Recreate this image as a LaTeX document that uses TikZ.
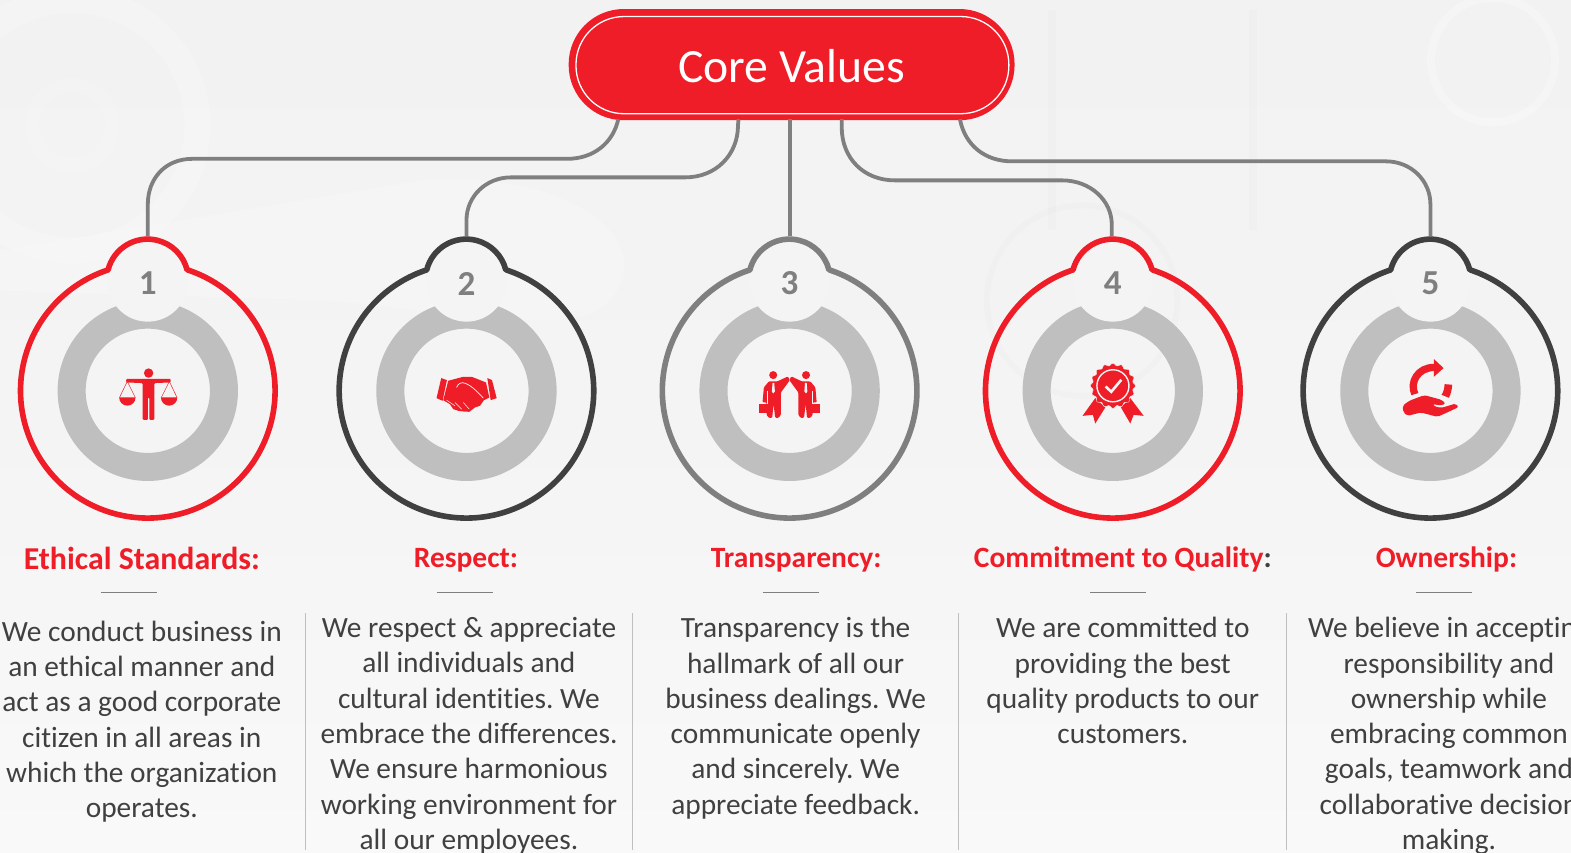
\documentclass[tikz,border=0pt]{standalone}
\usepackage{fontspec}
\setmainfont[Ligatures=NoCommon]{Carlito}
\definecolor{cvred}{HTML}{EE1D27}
\definecolor{cvdark}{HTML}{404040}
\definecolor{cvgray}{HTML}{7F7F7F}
\definecolor{cvring}{HTML}{BFBFBF}
\definecolor{cvbg}{HTML}{F4F4F4}
\definecolor{cvtop}{HTML}{F2F2F2}
\definecolor{cvbot}{HTML}{F9F9F9}
\definecolor{cvtxt}{HTML}{404040}
\newcommand{\bodyfont}{\fontsize{29.3}{35.2}\selectfont}
\tikzset{
  conn/.style={draw=cvgray,line width=3.8pt},
  bodytext/.style={anchor=north,align=center,text=cvtxt,inner sep=0pt,font=\bodyfont},
  headtext/.style={text=cvred,inner sep=0pt,font=\fontsize{29.4}{32}\selectfont\bfseries},
  rulemark/.style={draw=cvgray,line width=1pt},
  divider/.style={draw=cvring,line width=1pt},
}
\begin{document}
\frenchspacing
\begin{tikzpicture}[x=1pt,y=1pt]
\useasboundingbox (0,0) rectangle (1567.8,-850.3);
% background
\shade[top color=cvtop,bottom color=cvbot,middle color=cvbg] (0,0) rectangle (1567.8,-850.3);
\begin{scope}
\clip (0,0) rectangle (1567.8,-850.3);
\draw[white,opacity=.22,line width=26pt] (72,-125) circle[radius=125pt];
\draw[white,opacity=.15,line width=14pt] (72,-125) circle[radius=40pt];
\fill[white,opacity=.18] (0,-250) -- (420,-180) .. controls (560,-170) and (640,-230) .. (620,-280) .. controls (600,-340) and (520,-320) .. (330,-300) -- (0,-290) -- cycle;
\draw[white,opacity=.25,line width=8pt] (1490,-60) circle[radius=62pt];
\draw[black,opacity=.01,line width=8pt] (1050,-10) -- (1050,-230);
\draw[black,opacity=.01,line width=8pt] (1250,-10) -- (1250,-230);
\draw[black,opacity=.01,line width=6pt] (1080,-300) circle[radius=95pt];
\end{scope}
% named anchors on the title
\node[minimum width=445pt,minimum height=111pt,rounded corners=55pt,fill=cvred,inner sep=0pt] (core) at (790,-64.5) {};
\coordinate (s1) at (617,-119);
\coordinate (s2) at (737,-119);
\coordinate (s3) at (788,-119);
\coordinate (s4) at (840,-119);
\coordinate (s5) at (958,-119);
\coordinate (t1) at (147.5,-236);
\coordinate (t2) at (465.5,-236);
\coordinate (t3) at (788,-236);
\coordinate (t4) at (1109.5,-236);
\coordinate (t5) at (1427.5,-236);
\coordinate (b1) at (566,-158.5);
\coordinate (b2) at (684,-177);
\coordinate (b4) at (893,-180);
\coordinate (b5) at (1010,-161);
\coordinate (e1) at (192,-158.5);
\coordinate (e2) at (510,-177);
\coordinate (e4) at (1060,-180);
\coordinate (e5) at (1383,-161);
% connectors
\draw[conn] (s1) .. controls (612,-142) and (593,-158.5) .. (b1) -- (e1) .. controls (165,-158.5) and (147.5,-178) .. (147.5,-204) -- (t1);
\draw[conn] (s2) -- (736.5,-125) .. controls (736.5,-155) and (714,-177) .. (b2) -- (e2) .. controls (485,-177) and (465.5,-196) .. (465.5,-220) -- (t2);
\draw[conn] (s3) -- (t3);
\draw[conn] (s4) -- (840,-127) .. controls (840,-158) and (862,-180) .. (b4) -- (e4) .. controls (1088,-180) and (1109.5,-200) .. (1109.5,-224) -- (t4);
\draw[conn] (s5) .. controls (963,-145) and (983,-161) .. (b5) -- (e5) .. controls (1408,-161) and (1427.5,-180) .. (1427.5,-204) -- (t5);
% title
\node[minimum width=432pt,minimum height=97pt,rounded corners=48pt,draw=white,line width=1.3pt,inner sep=0pt] (coreinner) at (790.8,-65) {};
\node[text=white,inner sep=0pt,font=\fontsize{47.6}{50}\selectfont] (coretext) at (790,-65.5) {Core Values};
% badges
\foreach \i/\cx/\col in {1/147.5/cvred,2/465.5/cvdark,3/788/cvgray,4/1110.5/cvred,5/1427.5/cvdark}{
  \fill[even odd rule,cvring] (\cx,-390) circle[radius=90pt] (\cx,-390) circle[radius=62pt];
  \fill[cvbg] (\cx,-281) circle[radius=40pt];
  \draw[\col,line width=5.6pt,line join=round] (\cx,-390) ++(71.8:127pt) arc[start angle=71.8,end angle=-251.8,radius=127pt]
     arc[start angle=165.8,end angle=14.2,radius=40.7pt] -- cycle;
  \node[text=cvgray,inner sep=0pt,font=\fontsize{35}{36}\selectfont\bfseries] (num\i) at (\cx,-283) {\i};
}
% icon 1: scales (zoom coordinates of crop at 0,220)
\begin{scope}[shift={(0,-220)},x=0.3333pt,y=-0.3333pt,cvred]
  \fill (445,457) circle[radius=4.7pt];
  \fill[rounded corners=1pt] (378,474) -- (511,474) -- (511,485) -- (462,487) -- (462,597) -- (447,597) -- (447,530) -- (443,530) -- (443,597) -- (427,597) -- (427,487) -- (378,485) -- cycle;
  \draw[line width=.5pt] (358,530) -- (381,482) -- (405,530) (483,530) -- (507,482) -- (530,530);
  \fill (357,530) -- (406,530) arc[start angle=0,end angle=-180,radius=8.2pt] -- cycle;
  \fill (482,530) -- (531,530) arc[start angle=0,end angle=-180,radius=8.2pt] -- cycle;
\end{scope}
% icon 2: handshake, icon 3: people (crop at 400,340)
\begin{scope}[shift={(399,-340)},x=0.3333pt,y=-0.3333pt,cvred]
  \fill (124,112) -- (141,118) -- (128,180) -- (110,172) -- cycle;
  \fill (262,112) -- (276,118) -- (290,172) -- (272,178) -- cycle;
  \fill (145,120) -- (190,108) -- (215,108) -- (258,125) -- (268,170) -- (252,178) -- (240,195) -- (225,200) -- (208,213) -- (190,212) -- (175,210) -- (160,205) -- (150,190) -- (130,178) -- cycle;
  \draw[cvbg,line width=.7pt] (170,140) .. controls (180,115) and (205,122) .. (250,172);
  \draw[cvbg,line width=.5pt] (140,178) -- (165,195) (165,185) -- (185,205) (190,185) -- (208,205);
  \foreach \m in {0,1}{
    \begin{scope}[xshift={\m*778pt},xscale={1-2*\m}]
      \fill (1118,103) circle[radius=4pt];
      \fill[rounded corners=1pt] (1086,185) -- (1090,140) -- (1105,122) -- (1130,122) -- (1162,107) -- (1168,118) -- (1141,155) -- (1141,222) -- (1134,231) -- (1124,231) -- (1119,190) -- (1115,231) -- (1105,231) -- (1098,222) -- (1098,185) -- cycle;
      \fill (1075,190) -- (1112,190) -- (1112,215) -- (1075,215) -- cycle;
      \draw[cvbg,line width=.5pt] (1100,150) -- (1100,189);
      \fill[cvbg] (1116,126) -- (1121,126) -- (1123,152) -- (1118,158) -- (1114,152) -- cycle;
    \end{scope}
  }
\end{scope}
% icon 4: rosette, icon 5: hand (crop at 1050,340)
\begin{scope}[shift={(1048,-340)},x=0.3333pt,y=-0.3333pt,cvred]
  \fill (135,172) -- (165,200) -- (135,248) -- (128,222) -- (97,225) -- cycle;
  \fill (240,172) -- (212,200) -- (240,248) -- (250,222) -- (280,225) -- cycle;
  \fill[draw=cvbg,line width=.4pt] plot[samples=145,domain=0:360] ({188+(64+3.5*cos(16*\x))*cos(\x)},{135+(64+3.5*cos(16*\x))*sin(\x)}) -- cycle;
  \draw[cvbg,line width=1.4pt] (188,135) circle[radius=16pt];
  \draw[cvbg,line width=2.6pt] (166,137) -- (183,153) -- (213,117);
  \draw[line width=7.3pt] (1092,160) .. controls (1076,125) and (1100,80) .. (1150,80);
  \fill (1149,55) -- (1178,82) -- (1149,108) -- cycle;
  \fill (1181,130) -- (1204,132) .. controls (1203,145) and (1200,160) .. (1194,171) -- (1172,162) .. controls (1178,152) and (1181,142) .. (1181,130) -- cycle;
  \fill[rounded corners=2pt] (1055,195) -- (1075,180) -- (1120,163) -- (1172,177) -- (1184,188) -- (1172,194) -- (1145,190) -- (1150,197) -- (1172,201) -- (1215,188) -- (1223,199) -- (1160,228) -- (1110,215) -- (1070,225) -- (1058,215) -- cycle;
\end{scope}
% headings
\node[headtext,font=\fontsize{31.8}{34}\selectfont\bfseries] (h1) at (141.5,-557.5) {Ethical Standards:};
\node[headtext] (h2) at (465,-559.5) {Respect:};
\node[headtext] (h3) at (794.5,-559.5) {Transparency:};
\node[headtext] (h4) at (1120.5,-558.5) {Commitment to Quality\textcolor{cvdark}{:}};
\node[headtext] (h5) at (1443.5,-558.5) {Ownership:};
% short rules
\draw[rulemark] (101,-591) -- (157,-591);
\draw[rulemark] (436,-591) -- (492,-591);
\draw[rulemark] (761,-591) -- (817,-591);
\draw[rulemark] (1088,-591) -- (1144,-591);
\draw[rulemark] (1413,-591) -- (1469,-591);
% dividers
\draw[divider] (305,-612) -- (305,-848);
\draw[divider] (631,-612) -- (631,-848);
\draw[divider] (957,-612) -- (957,-848);
\draw[divider] (1284,-612) -- (1284,-848);
% body text
\node[bodytext] (p1) at (141.5,-619.5) {We conduct business in\\an ethical manner and\\act as a good corporate\\citizen in all areas in\\which the organization\\operates.};
\node[bodytext] (p2) at (468,-616) {We respect \& appreciate\\all individuals and\\cultural identities. We\\embrace the differences.\\We ensure harmonious\\working environment for\\all our employees.};
\node[bodytext] (p3) at (794,-616) {Transparency is the\\hallmark of all our\\business dealings. We\\communicate openly\\and sincerely. We\\appreciate feedback.};
\node[bodytext] (p4) at (1120.5,-616) {We are committed to\\providing the best\\quality products to our\\customers.};
\node[bodytext] (p5) at (1446,-616) {We believe in accepting\\responsibility and\\ownership while\\embracing common\\goals, teamwork and\\collaborative decision\\making.};
\end{tikzpicture}
\end{document}
